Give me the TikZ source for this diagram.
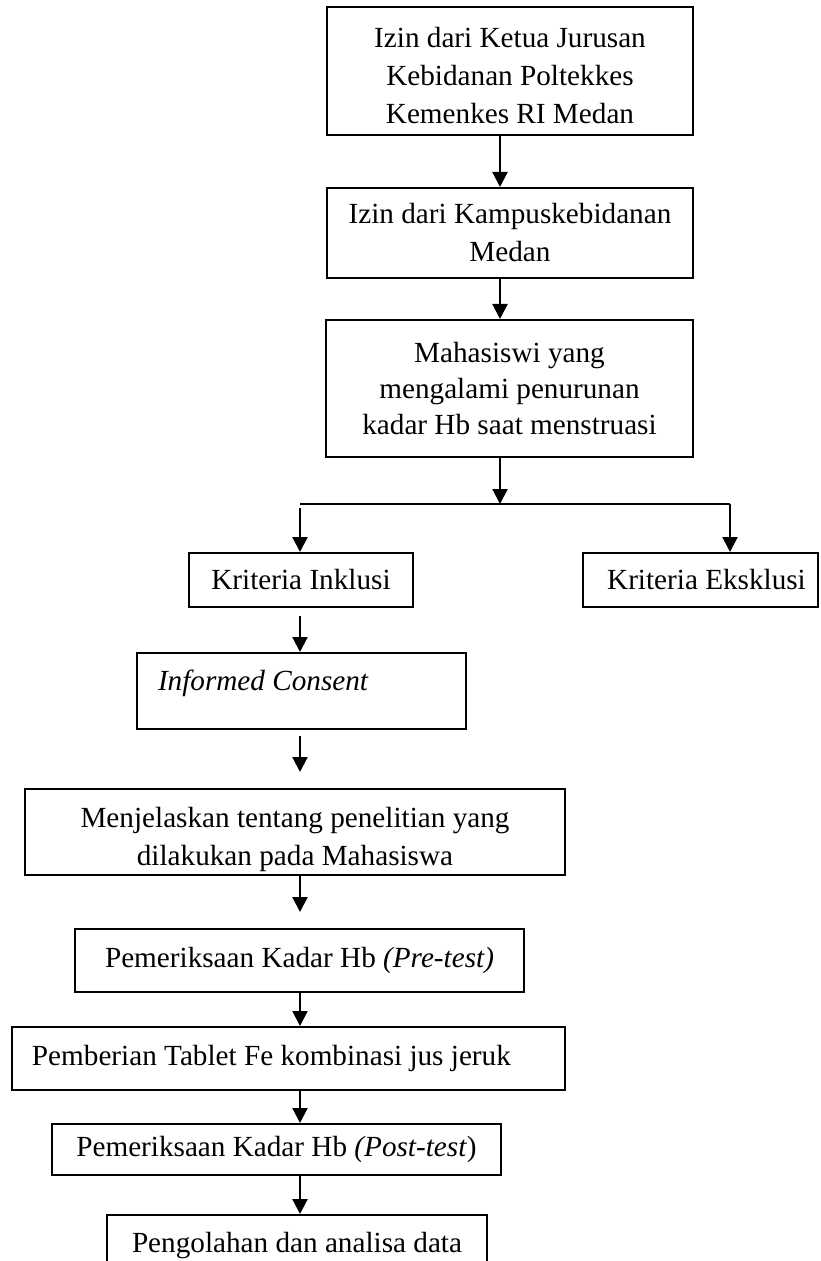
\documentclass[tikz,border=0pt]{standalone}
\usepackage{fontspec}
\setmainfont{Liberation Serif}
\usetikzlibrary{arrows.meta}

\tikzset{
  kotak/.style={draw, line width=1pt, inner sep=0pt, align=center,
    font=\fontsize{14.6}{19}\selectfont},
  panah/.style={line width=1.1pt, -{Triangle[length=7.5pt,width=7.5pt]}}
}

\begin{document}
\begin{tikzpicture}[x=0.5pt,y=-0.5pt]
\useasboundingbox (0,0) rectangle (820,1261);
\coordinate (jalur) at (500,0);
\coordinate (tengah) at (300,0);
\coordinate (cabang) at (500,504);
\coordinate (kiri) at (300,504);
\coordinate (kanan) at (730,504);

\node[kotak, minimum width=183pt, minimum height=64pt] (izin1) at (510,71)
  {\rule{0pt}{15pt}Izin dari Ketua Jurusan\\Kebidanan Poltekkes\\Kemenkes RI Medan};
\node[kotak, minimum width=183pt, minimum height=45pt] (izin2) at (510,233)
  {Izin dari Kampuskebidanan\\Medan};
\node[kotak, minimum width=183.5pt, minimum height=68.5pt] (mhs) at (509.5,388.5)
  {Mahasiswi yang\\[-1pt]mengalami penurunan\\[-1pt]kadar Hb saat menstruasi};
\node[kotak, minimum width=112pt, minimum height=27pt] (inklusi) at (301,580)
  {Kriteria Inklusi};
\node[kotak, minimum width=117.5pt, minimum height=27pt] (eksklusi) at (700.5,580)
  {\hspace*{6pt}Kriteria Eksklusi};
\node[kotak, align=flush left, text width=143.5pt, inner xsep=10.5pt, minimum height=38pt]
  (informed) at (301.5,691) {\textit{Informed Consent}\\[-8pt]\mbox{}};
\node[kotak, minimum width=270pt, minimum height=43pt] (jelas) at (295,832)
  {\rule{0pt}{18pt}Menjelaskan tentang penelitian yang\\dilakukan pada Mahasiswa};
\node[kotak, minimum width=224.5pt, minimum height=31.5pt] (pre) at (299.5,960.5)
  {Pemeriksaan Kadar Hb \textit{(Pre-test)}};
\node[kotak, align=flush left, text width=256.5pt, inner xsep=10pt, minimum height=31.5pt]
  (beri) at (288.5,1058.5) {Pemberian Tablet Fe kombinasi jus jeruk};
\node[kotak, minimum width=224.5pt, minimum height=25.5pt] (post) at (276.5,1149.5)
  {Pemeriksaan Kadar Hb \textit{(Post-test})};
\node[kotak, minimum width=190pt, minimum height=31pt] (olah) at (297,1246)
  {Pengolahan dan analisa data};

\draw[panah] (izin1.south -| jalur) -- (izin2.north -| jalur);
\draw[panah] (izin2.south -| jalur) -- (mhs.north -| jalur);
\draw[panah] (mhs.south -| jalur) -- (cabang);
\draw[line width=1.1pt] (kiri) -- (kanan);
\draw[panah] (kanan) -- (eksklusi.north -| kanan);
\draw[panah] ([yshift=-2pt]kiri) -- (inklusi.north -| kiri);
\draw[panah, shorten <=4pt] (inklusi.south -| tengah) -- (informed.north -| tengah);
\draw[panah, shorten <=3pt, shorten >=8pt] (informed.south -| tengah) -- (jelas.north -| tengah);
\draw[panah, shorten >=8pt] (jelas.south -| tengah) -- (pre.north -| tengah);
\draw[panah] (pre.south -| tengah) -- (beri.north -| tengah);
\draw[panah] (beri.south -| tengah) -- (post.north -| tengah);
\draw[panah] (post.south -| tengah) -- (olah.north -| tengah);
\end{tikzpicture}
\end{document}
